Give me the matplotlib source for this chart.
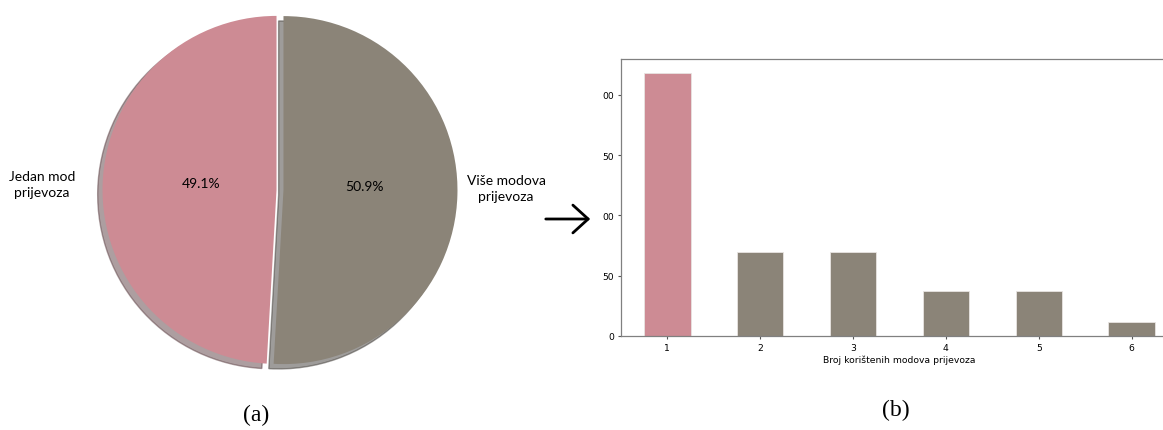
import matplotlib.pyplot as plt
from matplotlib.patches import FancyArrowPatch

# number of transport modes used per trip and how many respondents
modes = ['1', '2', '3', '4', '5', '6']
counts = [218, 70, 70, 37, 37, 12]
# y tick labels are cut off at the left in the original picture
ytick_vals = [0, 50, 100, 150, 200]
ytick_text = ['0', '50', '00', '50', '00']

pie_labels = ['Jedan mod\nprijevoza', 'Više modova\nprijevoza']
pie_vals = [counts[0], sum(counts[1:])]

PINK = '#cd8b94'
GREY = '#8b8478'

W, H = 1163, 431
fig = plt.figure(figsize=(W / 100, H / 100), dpi=100)

# (a) pie chart
r = 174.0  # pixels per unit radius
cx, cy = 280.0, 191.0  # centre in pixels (from top-left)
ax1 = fig.add_axes([0, 0, 560 / W, 1])
wedges, texts, autotexts = ax1.pie(
    pie_vals, labels=pie_labels, colors=[PINK, GREY], explode=(0.02, 0.02),
    startangle=90, autopct='%1.1f%%',
    shadow={'ox': -0.02, 'oy': -0.02, 'shade': 0.55},
    textprops=dict(family='Lato', fontsize=10, multialignment='center',
                   linespacing=1.35))
ax1.set_aspect('auto')
ax1.set_xlim(-cx / r, (560 - cx) / r)
ax1.set_ylim(-(H - cy) / r, cy / r)


def to_data(px, py):
    return (px - cx) / r, (cy - py) / r


# place labels like in the original
for t, (px, py) in zip(texts, [(42, 185), (506, 189)]):
    t.set_position(to_data(px, py))
    t.set_ha('center')
    t.set_va('center')
for t, (px, py) in zip(autotexts, [(201, 184), (364, 187)]):
    t.set_position(to_data(px, py))
    t.set_ha('center')
    t.set_va('center')

# (b) bar chart
ax2 = fig.add_axes([621 / W, 94 / H, 557 / W, 277 / H])
xpos = range(len(modes))
ax2.bar(xpos, counts, width=0.5, color=[PINK] + [GREY] * (len(modes) - 1),
        edgecolor='#e8e4e2', linewidth=0.6)
ax2.set_xlim(-0.5, len(modes) - 0.5)
ax2.set_ylim(0, 229.7)
ax2.set_xticks(list(xpos))
ax2.set_xticklabels(modes)
ax2.set_yticks(ytick_vals)
ax2.set_yticklabels(ytick_text)
ax2.tick_params(labelsize=6.7, length=2.5, width=0.8, color='#555555', pad=2.5)
ax2.set_xlabel('Broj korištenih modova prijevoza', fontsize=6.7, labelpad=1.5)
for s in ax2.spines.values():
    s.set_color('#808080')
    s.set_linewidth(0.9)

# arrow between the two panels
arrow = FancyArrowPatch((543 / W, 1 - 220 / H), (593 / W, 1 - 220 / H),
                        transform=fig.transFigure,
                        arrowstyle='->,head_length=0.55,head_width=0.5',
                        mutation_scale=20, lw=2.0, color='black')
fig.add_artist(arrow)

fig.text(256 / W, 1 - 415 / H, '(a)', family='Liberation Serif', fontsize=17,
         ha='center', va='center')
fig.text(896 / W, 1 - 410 / H, '(b)', family='Liberation Serif', fontsize=17,
         ha='center', va='center')

fig.savefig('out.png', dpi=100)
